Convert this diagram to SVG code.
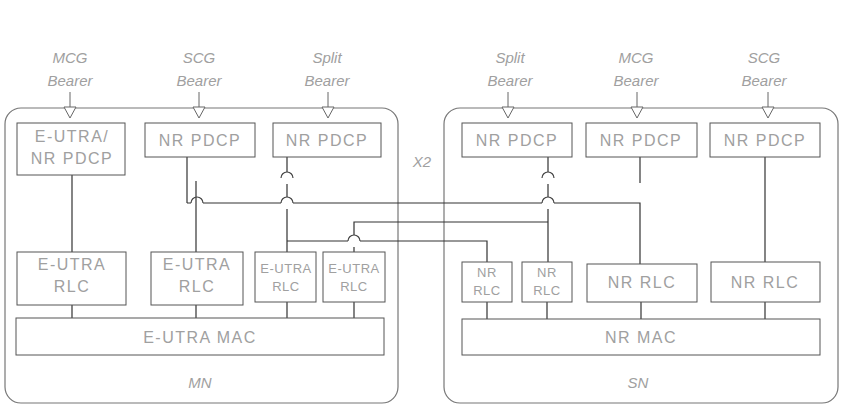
<svg xmlns="http://www.w3.org/2000/svg" width="844" height="409" viewBox="0 0 844 409">
<style>
  .cont{fill:none;stroke:#777;stroke-width:1.2}
  .box{fill:#fff;stroke:#555;stroke-width:1}
  .t{font-family:"Liberation Sans",Arial,sans-serif;font-size:16px;fill:#a0a0a0;text-anchor:middle;letter-spacing:1.5px}
  .ts{font-family:"Liberation Sans",Arial,sans-serif;font-size:13px;fill:#a0a0a0;text-anchor:middle;letter-spacing:0.5px}
  .lab{font-family:"Liberation Sans",Arial,sans-serif;font-size:15px;font-style:italic;fill:#a0a0a0;text-anchor:middle}
  .ln{fill:none;stroke:#333;stroke-width:1.2}
  .hop{fill:none;stroke:#444;stroke-width:1.2}
  .arr{fill:#fff;stroke:#666;stroke-width:1}
</style>
<rect width="844" height="409" fill="#fff"/>

<g id="MN">
  <rect class="cont" x="5" y="108" width="393" height="295" rx="16"/>
  <text class="lab" x="200" y="388">MN</text>
</g>
<g id="SN">
  <rect class="cont" x="444" y="108" width="394" height="295" rx="16"/>
  <text class="lab" x="638" y="388">SN</text>
</g>
<g id="X2"><text class="lab" x="422" y="167">X2</text></g>

<g id="bearer-mn-mcg">
  <text class="lab" x="70" y="63">MCG</text><text class="lab" x="70" y="86">Bearer</text>
  <path class="arr" d="M70,92 V107 M64,107 H76 L70,118 Z"/>
</g>
<g id="bearer-mn-scg">
  <text class="lab" x="199" y="63">SCG</text><text class="lab" x="199" y="86">Bearer</text>
  <path class="arr" d="M199,92 V107 M193,107 H205 L199,118 Z"/>
</g>
<g id="bearer-mn-split">
  <text class="lab" x="327" y="63">Split</text><text class="lab" x="327" y="86">Bearer</text>
  <path class="arr" d="M328,92 V107 M322,107 H334 L328,118 Z"/>
</g>
<g id="bearer-sn-split">
  <text class="lab" x="510" y="63">Split</text><text class="lab" x="510" y="86">Bearer</text>
  <path class="arr" d="M508,92 V107 M502,107 H514 L508,118 Z"/>
</g>
<g id="bearer-sn-mcg">
  <text class="lab" x="636" y="63">MCG</text><text class="lab" x="636" y="86">Bearer</text>
  <path class="arr" d="M637,92 V107 M631,107 H643 L637,118 Z"/>
</g>
<g id="bearer-sn-scg">
  <text class="lab" x="764" y="63">SCG</text><text class="lab" x="764" y="86">Bearer</text>
  <path class="arr" d="M768,92 V107 M762,107 H774 L768,118 Z"/>
</g>

<g id="connectors">
  <path class="ln" d="M72,175 V252"/>
  <path class="ln" d="M196,181 V252"/>
  <path class="ln" d="M187,157 V203"/>
  <path class="ln" d="M287,157 V172 M287,184 V197 M287,209 V252"/>
  <path class="ln" d="M187,203 H191 M203,203 H281 M293,203 H542 M554,203 H640 V264"/>
  <path class="ln" d="M640,157 V183"/>
  <path class="ln" d="M287,241 H348 M360,241 H487 V262"/>
  <path class="ln" d="M548,157 V172 M548,184 V197 M548,209 V262"/>
  <path class="ln" d="M548,222 H354 V235 M354,247 V252"/>
  <path class="ln" d="M765,157 V262"/>
  <path class="hop" d="M191,203 a6,6 0 0 1 12,0"/>
  <path class="hop" d="M281,203 a6,6 0 0 1 12,0"/>
  <path class="hop" d="M281,178 a6,6 0 0 1 12,0"/>
  <path class="hop" d="M348,241 a6,6 0 0 1 12,0"/>
  <path class="hop" d="M542,203 a6,6 0 0 1 12,0"/>
  <path class="hop" d="M542,178 a6,6 0 0 1 12,0"/>
  <path class="ln" d="M72,305 V318 M196,305 V318 M287,302 V318 M354,302 V318"/>
  <path class="ln" d="M487,302 V319 M547,302 V319 M641,302 V319 M765,302 V319"/>
</g>

<g id="mn-pdcp-1"><rect class="box" x="17" y="123" width="108" height="52"/><text class="t" x="72" y="142">E-UTRA/</text><text class="t" x="72" y="164">NR PDCP</text></g>
<g id="mn-pdcp-2"><rect class="box" x="145" y="123" width="110" height="34"/><text class="t" x="200" y="146">NR PDCP</text></g>
<g id="mn-pdcp-3"><rect class="box" x="273" y="123" width="108" height="34"/><text class="t" x="327" y="146">NR PDCP</text></g>
<g id="sn-pdcp-1"><rect class="box" x="462" y="123" width="110" height="34"/><text class="t" x="517" y="146">NR PDCP</text></g>
<g id="sn-pdcp-2"><rect class="box" x="586" y="123" width="111" height="34"/><text class="t" x="641" y="146">NR PDCP</text></g>
<g id="sn-pdcp-3"><rect class="box" x="710" y="123" width="110" height="34"/><text class="t" x="765" y="146">NR PDCP</text></g>

<g id="mn-rlc-1"><rect class="box" x="17" y="252" width="109" height="53"/><text class="t" x="72" y="270">E-UTRA</text><text class="t" x="72" y="292">RLC</text></g>
<g id="mn-rlc-2"><rect class="box" x="151" y="252" width="92" height="53"/><text class="t" x="197" y="270">E-UTRA</text><text class="t" x="197" y="292">RLC</text></g>
<g id="mn-rlc-3"><rect class="box" x="255" y="252" width="61" height="50"/><text class="ts" x="286" y="273">E-UTRA</text><text class="ts" x="286" y="291">RLC</text></g>
<g id="mn-rlc-4"><rect class="box" x="323" y="252" width="62" height="50"/><text class="ts" x="354" y="273">E-UTRA</text><text class="ts" x="354" y="291">RLC</text></g>
<g id="mn-mac"><rect class="box" x="16" y="318" width="368" height="37"/><text class="t" x="200" y="343">E-UTRA MAC</text></g>

<g id="sn-rlc-1"><rect class="box" x="462" y="262" width="50" height="40"/><text class="ts" x="487" y="277">NR</text><text class="ts" x="487" y="295">RLC</text></g>
<g id="sn-rlc-2"><rect class="box" x="522" y="262" width="50" height="40"/><text class="ts" x="547" y="277">NR</text><text class="ts" x="547" y="295">RLC</text></g>
<g id="sn-rlc-3"><rect class="box" x="587" y="264" width="110" height="38"/><text class="t" x="642" y="288">NR RLC</text></g>
<g id="sn-rlc-4"><rect class="box" x="711" y="262" width="109" height="40"/><text class="t" x="765" y="288">NR RLC</text></g>
<g id="sn-mac"><rect class="box" x="462" y="319" width="358" height="36"/><text class="t" x="641" y="343">NR MAC</text></g>
</svg>
